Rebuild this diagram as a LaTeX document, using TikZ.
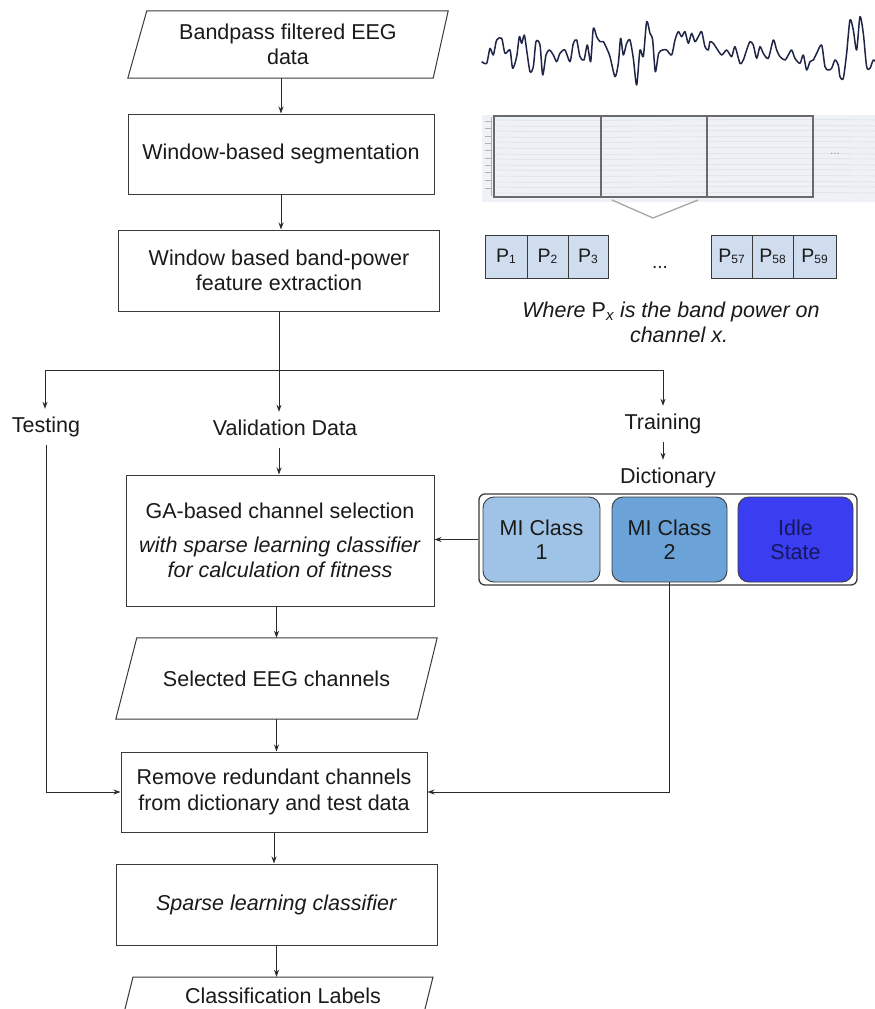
\documentclass[tikz,border=0pt]{standalone}
\usepackage{fontspec}
\setmainfont{Liberation Sans}
\usetikzlibrary{arrows.meta,calc}
\definecolor{lineC}{HTML}{2A2A2A}
\definecolor{boxC}{HTML}{3A3A3A}
\definecolor{txtC}{HTML}{1A1A1A}
\definecolor{classA}{HTML}{9FC3E7}
\definecolor{classB}{HTML}{6BA3D8}
\definecolor{idleC}{HTML}{3B3EF0}
\definecolor{idleT}{HTML}{16185C}
\definecolor{cellC}{HTML}{CFDDEF}
\definecolor{eegC}{HTML}{1E2547}
\definecolor{segBg}{HTML}{EEF1F5}
\definecolor{segLn}{HTML}{DCE0E6}
\definecolor{segFr}{HTML}{6A6A6A}
\newcommand{\subnum}[1]{\raisebox{-1pt}{\fontsize{12}{12}\selectfont #1}}
\tikzset{
  basefont/.style={font=\fontsize{21.5}{25.5}\selectfont, text=txtC},
  procbox/.style={draw=boxC, line width=1pt, rectangle, align=center, inner sep=2pt, basefont},
  iobox/.style={rectangle, align=center, inner sep=0pt, basefont},
  paraline/.style={draw=boxC, line width=1pt},
  lbl/.style={basefont, inner xsep=2pt, inner ysep=8pt, text height=15pt, text depth=4.5pt},
  arr/.style={draw=lineC, line width=0.9pt, -{Stealth[length=7pt,width=5pt]}},
  ln/.style={draw=lineC, line width=0.9pt},
  classbox/.style={draw=boxC, line width=0.9pt, rounded corners=11pt, minimum height=85pt, align=center, inner sep=0pt, font=\fontsize{21.5}{24}\selectfont},
  cell/.style={draw=boxC, fill=cellC, line width=0.9pt, minimum height=43pt, inner sep=0pt, font=\fontsize{19.5}{19.5}\selectfont, text=txtC},
}
\begin{document}
\begin{tikzpicture}[x=1pt, y=-1pt]
\useasboundingbox (0,0) rectangle (875,1009);
\clip (0,0) rectangle (875,1009);
\fill[white] (0,0) rectangle (875,1009);

% ---------- main flow ----------
\node[iobox, minimum width=320pt, minimum height=67pt] (bp) at (288,44.5) {Bandpass filtered EEG\\data};
\draw[paraline] ($(bp.north west)+(19,0)$) -- (bp.north east) -- ($(bp.south east)+(-15,0)$) -- (bp.south west) -- cycle;

\node[procbox, minimum width=306pt, minimum height=80pt] (seg) at (281,154) {Window-based segmentation};
\node[procbox, minimum width=321pt, minimum height=81pt] (feat) at (279,270.5) {Window based band-power\\feature extraction};

\draw[arr] (seg.north |- bp.south) -- (seg.north);
\draw[arr] (seg.south) -- (seg.south |- feat.north);

\coordinate (br) at (279,370);
\coordinate (brL) at (45,370);
\coordinate (brR) at (663,370);

\node[lbl, anchor=base] (test) at (46,432) {Testing};
\node[lbl, anchor=base] (val) at (285,435) {Validation Data};
\node[lbl, anchor=base] (train) at (663,429) {Training};
\node[lbl, anchor=base] (dictl) at (668,483) {Dictionary};

\draw[ln] (feat.south) -- (br);
\draw[ln] (brL) -- (brR);
\draw[arr] (brL) -- (brL |- test.north);
\draw[arr] (br) -- (br |- val.north);
\draw[arr] (brR) -- (brR |- train.north);
\draw[arr] (train.south) -- (train.south |- dictl.north);

\node[procbox, minimum width=308pt, minimum height=131pt] (ga) at (280,540.5) {};
\node[basefont, align=center, inner sep=0pt] (gatxt) at (280,540.5) {GA-based channel selection\\[8pt]\textit{with sparse learning classifier}\\\textit{for calculation of fitness}};
\draw[arr] (br |- val.south) -- (br |- ga.north);

% dictionary
\node[draw=boxC, line width=1.3pt, rounded corners=6pt, minimum width=378pt, minimum height=91pt, inner sep=0pt] (dict) at (668,539.5) {};
\node[classbox, fill=classA, minimum width=117pt, text=txtC] (c1) at (541.5,539.5) {MI Class\\1};
\node[classbox, fill=classB, minimum width=115pt, text=txtC] (c2) at (669.5,539.5) {MI Class\\2};
\node[classbox, fill=idleC, minimum width=115pt, text=idleT] (idle) at (795.5,539.5) {Idle\\State};
\draw[arr] (dict.west) -- (dict.west -| ga.east);

\node[iobox, minimum width=321pt, minimum height=81pt] (sel) at (276.5,678.5) {Selected EEG channels};
\draw[paraline] ($(sel.north west)+(21,0)$) -- (sel.north east) -- ($(sel.south east)+(-20,0)$) -- (sel.south west) -- cycle;
\draw[arr] (sel.north |- ga.south) -- (sel.north);

\node[procbox, minimum width=306pt, minimum height=80pt] (rm) at (274,792) {Remove redundant channels\\from dictionary and test data};
\draw[arr] (sel.south) -- (sel.south |- rm.north);
\draw[arr] (test.south) |- (rm.west);
\draw[arr] (c2.south) |- (rm.east);

\node[procbox, minimum width=321pt, minimum height=81pt] (sp) at (276.5,904.5) {\textit{Sparse learning classifier}};
\draw[arr] (rm.south) -- (rm.south |- sp.north);

\node[iobox, minimum width=300pt, minimum height=37pt] (lab) at (283,995.5) {Classification Labels};
\draw[paraline] (133,977) -- (433,977) -- (413,1057) -- (113,1057) -- cycle;
\draw[arr] (sp.south) -- (sp.south |- lab.north);

% ---------- EEG trace ----------
\begin{scope}[shift={(460,0)}, x=0.3333pt, y=-0.3333pt]
\draw[eegC, line width=1.5pt, line join=round] plot[smooth, tension=0.45] coordinates {
(65,185) (80,190) (90,145) (100,165) (110,120) (125,115) (135,160) (150,150) (158,205) (170,170)
(178,110) (185,130) (193,105) (200,150) (210,215) (220,200) (228,125) (240,135) (248,225) (258,165)
(268,150) (280,165) (290,185) (300,160) (315,150) (330,185) (340,130) (350,120) (360,170) (372,180)
(382,135) (392,185) (400,85) (410,110) (420,125) (430,125) (440,145) (450,170) (465,230) (475,190)
(482,115) (490,165) (500,130) (510,120) (520,175) (530,255) (540,150) (550,170) (560,65) (570,100)
(578,120) (586,215) (596,160) (608,150) (620,150) (635,165) (645,120) (655,95) (665,110) (675,95)
(685,130) (695,100) (705,125) (715,110) (725,95) (735,140) (745,150) (750,125) (760,130) (770,145)
(785,165) (800,150) (815,170) (825,140) (840,190) (850,180) (860,150) (870,125) (880,135) (890,175)
(900,140) (910,160) (925,175) (940,120) (950,150) (960,170) (975,180) (985,165) (995,150) (1005,175)
(1020,190) (1030,165) (1040,210) (1050,185) (1060,180) (1070,160) (1085,135) (1095,200) (1105,210) (1115,205)
(1125,180) (1135,195) (1140,230) (1150,235) (1160,160) (1170,60) (1180,90) (1190,150) (1200,50) (1210,100)
(1220,200) (1230,205) (1240,180) (1250,190)};
\end{scope}

% ---------- segmentation picture ----------
\fill[segBg] (482,115) rectangle (875,202);
\foreach \yy in {120,126,131,137,142,148,154,159,165,170,176,182,187,193}
  \draw[segLn, line width=0.6pt] (496,\yy) .. controls (600,\yy+1.5) and (720,\yy-1.5) .. (875,\yy);
\draw[gray!60, line width=0.6pt] (491,117) -- (491,196);
\foreach \yy in {121,128,136,143,150,158,165,172,180,188}
  \draw[gray!60, line width=0.6pt] (485,\yy) -- (491,\yy);
\draw[segFr, line width=1.4pt] (494,116) rectangle (813,197);
\draw[segFr, line width=1.4pt] (601,116) -- (601,197);
\draw[segFr, line width=1.4pt] (707,116) -- (707,197);
\node[text=gray!80, font=\fontsize{12}{12}\selectfont, inner sep=0pt] (segdots) at (835,154) {...};
\draw[gray!70, line width=1.3pt] (612,200) -- (653,218) -- (698,200);

% ---------- band power cells ----------
\node[cell, minimum width=42pt] (p1) at (506,256.5) {P\subnum{1}};
\node[cell, minimum width=41pt] (p2) at (547.5,256.5) {P\subnum{2}};
\node[cell, minimum width=40pt] (p3) at (588,256.5) {P\subnum{3}};
\node[cell, minimum width=41pt] (p57) at (731.5,256.5) {P\subnum{57}};
\node[cell, minimum width=41pt] (p58) at (772.5,256.5) {P\subnum{58}};
\node[cell, minimum width=43pt] (p59) at (814.5,256.5) {P\subnum{59}};
\node[font=\fontsize{19}{19}\selectfont, text=txtC, anchor=base, inner sep=0pt] (celldots) at (660,268) {...};

\node[font=\fontsize{21.5}{25.5}\selectfont\itshape, text=txtC, anchor=base, inner sep=0pt] (where1) at (671,317) {Where {\upshape P}\textsubscript{x} is the band power on};
\node[font=\fontsize{21.5}{25.5}\selectfont\itshape, text=txtC, anchor=base, inner sep=0pt] (where2) at (679,342) {channel x.};
\end{tikzpicture}
\end{document}
